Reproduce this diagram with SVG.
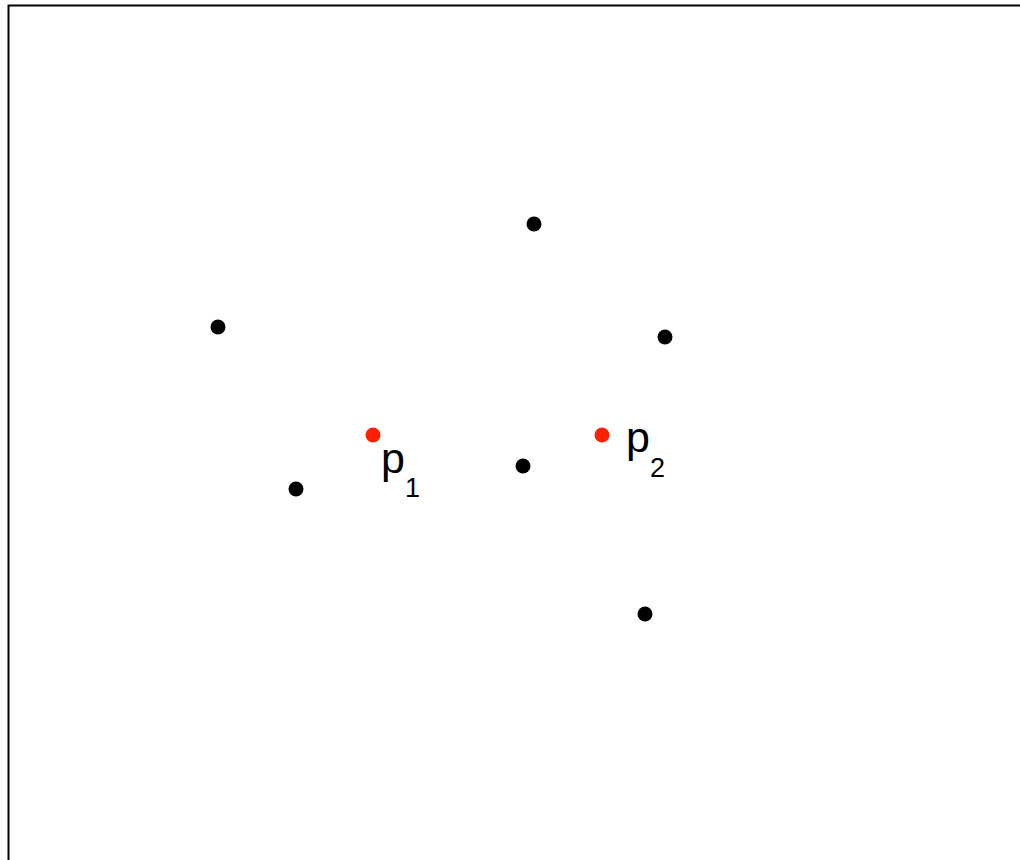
<svg xmlns="http://www.w3.org/2000/svg" width="1020" height="860" viewBox="0 0 1020 860">
<style>
.pt{fill:#000}
.rd{fill:#ff2200}
.lb{font-family:"Liberation Sans",Arial,sans-serif;fill:#000;font-size:43px}
.sb{font-size:27px}
</style>
<rect x="0" y="0" width="1020" height="860" fill="#fff"/>
<rect x="8.5" y="5.5" width="1030" height="880" fill="none" stroke="#000" stroke-width="2"/>
<g id="connectors"></g>
<g id="n1"><circle class="pt" cx="534" cy="224" r="7.5"/></g>
<g id="n2"><circle class="pt" cx="218" cy="327" r="7.5"/></g>
<g id="n3"><circle class="pt" cx="665" cy="337" r="7.5"/></g>
<g id="n4"><circle class="pt" cx="296" cy="489" r="7.5"/></g>
<g id="n5"><circle class="pt" cx="523" cy="466" r="7.5"/></g>
<g id="n6"><circle class="pt" cx="645" cy="614" r="7.5"/></g>
<g id="p1"><circle class="rd" cx="373" cy="435" r="7.5"/>
<text class="lb" x="381" y="473">p<tspan class="sb" dy="24">1</tspan></text></g>
<g id="p2"><circle class="rd" cx="602" cy="435" r="7.5"/>
<text class="lb" x="626" y="452">p<tspan class="sb" dy="25">2</tspan></text></g>
</svg>
